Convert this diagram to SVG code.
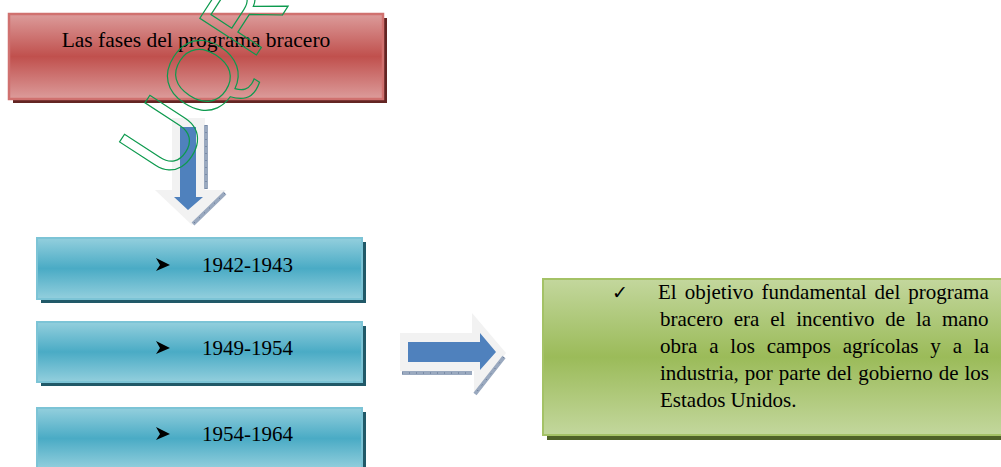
<svg xmlns="http://www.w3.org/2000/svg" width="1001" height="467" viewBox="0 0 1001 467">
<defs>
<linearGradient id="gRed" x1="0" y1="0" x2="0" y2="1">
<stop offset="0" stop-color="#dc9c9b"/><stop offset="0.5" stop-color="#c0504d"/><stop offset="1" stop-color="#dc9c9b"/>
</linearGradient>
<linearGradient id="gBlue" x1="0" y1="0" x2="0" y2="1">
<stop offset="0" stop-color="#93cfdd"/><stop offset="0.5" stop-color="#4aabc5"/><stop offset="1" stop-color="#93cfdd"/>
</linearGradient>
<linearGradient id="gGreen" x1="0" y1="0" x2="0" y2="1">
<stop offset="0" stop-color="#c3d79d"/><stop offset="0.5" stop-color="#9bbb59"/><stop offset="1" stop-color="#c3d79d"/>
</linearGradient>
<path id="bullet" d="M0,0 L14,7 L0,13 L4,7 Z"/>
</defs>
<style>
.t{font-family:"Liberation Serif","Times New Roman",serif;fill:#000;}
.sh-red{fill:#632523;}
.sh-blue{fill:#215968;}
.sh-green{fill:#4f6228;}
.box-blue{fill:url(#gBlue);stroke:#7cc4d6;stroke-width:2;}
.arrow-bg{fill:#f2f2f2;}
.arrow-fg{fill:#4f81bd;}
.hatch{stroke:#9aa9bf;stroke-width:4;fill:none;}
.hatch2{stroke:#5a6f8e;stroke-width:1;stroke-dasharray:1 6;fill:none;}
</style>
<rect width="1001" height="467" fill="#ffffff"/>

<g id="connectors">
<g id="arrow-down">
<polygon class="arrow-bg" points="172,118 205,118 205,190 226,190 192,225 155,190 172,190"/>
<path class="hatch" d="M206,125 V189 M225,193 L193,224"/>
<path class="hatch2" d="M206,125 V189 M225,193 L193,224"/>
<polygon class="arrow-fg" points="180,127 196,127 196,197 203,197 188,210 174,197 180,197"/>
</g>
<g id="arrow-right">
<polygon class="arrow-bg" points="400,333 472,333 472,313 506,353 474,394 474,371 400,371"/>
<path class="hatch" d="M402,373 H472 M504,357 L475,394"/>
<path class="hatch2" d="M402,373 H472 M504,357 L475,394"/>
<polygon class="arrow-fg" points="408,342 480,342 480,333 496,352 480,370 480,362 408,362"/>
</g>
</g>

<g id="node-title">
<rect class="sh-red" x="13" y="18" width="374" height="85"/>
<rect x="9" y="14" width="374" height="85" fill="url(#gRed)" stroke="#d0716f" stroke-width="2.5"/>
<text class="t" x="196" y="46.5" font-size="21.5" text-anchor="middle">Las fases del programa bracero</text>
</g>

<g id="node-1942">
<rect class="sh-blue" x="41" y="242" width="325" height="61"/>
<rect class="box-blue" x="37" y="238" width="325" height="61"/>
<use href="#bullet" x="156" y="258"/>
<text class="t" x="202" y="272" font-size="21">1942-1943</text>
</g>

<g id="node-1949">
<rect class="sh-blue" x="41" y="326" width="325" height="60"/>
<rect class="box-blue" x="37" y="322" width="325" height="60"/>
<use href="#bullet" x="156" y="341"/>
<text class="t" x="202" y="355" font-size="21">1949-1954</text>
</g>

<g id="node-1954">
<rect class="sh-blue" x="41" y="412" width="325" height="61"/>
<rect class="box-blue" x="37" y="408" width="325" height="61"/>
<use href="#bullet" x="156" y="427"/>
<text class="t" x="202" y="441" font-size="21">1954-1964</text>
</g>

<g id="node-objetivo">
<rect class="sh-green" x="547" y="283" width="470" height="157"/>
<rect x="543" y="279" width="470" height="156" fill="url(#gGreen)" stroke="#a4c266" stroke-width="2"/>
<text x="612" y="299" font-size="19" font-family="DejaVu Sans, sans-serif" fill="#000">✓</text>
<text class="t" font-size="21">
<tspan x="658" y="299" word-spacing="2.8">El objetivo fundamental del programa</tspan>
<tspan x="660" y="326" word-spacing="5.6">bracero era el incentivo de la mano</tspan>
<tspan x="660" y="353" word-spacing="6.6">obra a los campos agrícolas y a la</tspan>
<tspan x="660" y="380" word-spacing="0.7">industria, por parte del gobierno de los</tspan>
<tspan x="660" y="407">Estados Unidos.</tspan>
</text>
</g>

<g id="watermark">
<text transform="translate(172,185) rotate(-57)" font-family="Liberation Sans, Arial, sans-serif" font-size="98" fill="none" stroke="#0d9a4e" stroke-width="1.2">UQROO</text>
</g>
</svg>
